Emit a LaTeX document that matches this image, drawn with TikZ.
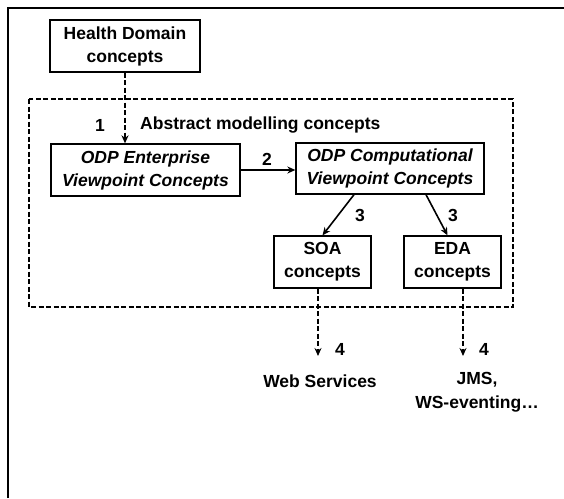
\documentclass[tikz,border=0pt]{standalone}
\usepackage{fontspec}
\setmainfont{Liberation Sans}
\usetikzlibrary{arrows.meta, positioning, calc}

\begin{document}
\begin{tikzpicture}[
    x=1pt, y=-1pt,
    box/.style={
        draw=black,
        fill=white,
        align=center,
        inner sep=0pt,
        font=\fontsize{17.5}{23}\selectfont\bfseries,
        line width=1.3pt
    },
    vpbox/.style={
        box,
        font=\fontsize{17.5}{23}\selectfont\bfseries\itshape
    },
    lbl/.style={
        align=center,
        inner sep=0pt,
        font=\fontsize{17.5}{24}\selectfont\bfseries
    },
    arrow/.style={
        -{Stealth[length=8pt,width=7pt]},
        line width=1.6pt,
        draw=black
    },
    dasharrow/.style={
        -{Stealth[length=8pt,width=7pt]},
        line width=1.6pt,
        dash pattern=on 5pt off 2.5pt,
        draw=black
    },
    region/.style={
        draw=black,
        line width=1.6pt,
        dash pattern=on 5pt off 2.5pt
    }
]
\useasboundingbox (0,0) rectangle (564,498);

% Frame
\draw[line width=2pt] (8,498) -- (8,8) -- (564,8);

% Abstract modelling region
\draw[region] (29,99) rectangle (513,307);
\node[lbl, anchor=west] (abs) at (140,125) {Abstract modelling concepts};

% Nodes
\node (hd) [box, minimum width=150pt, minimum height=52pt] at (125,46) {Health Domain\\concepts};
\node (ent) [vpbox, minimum width=189pt, minimum height=52pt] at (145.5,170) {ODP Enterprise\\Viewpoint Concepts};
\node (comp) [vpbox, minimum width=188pt, minimum height=51pt] at (390,168.5) {ODP Computational\\Viewpoint Concepts};
\node (soa) [box, minimum width=97pt, minimum height=52pt] at (322.5,262) {SOA\\concepts};
\node (eda) [box, minimum width=97pt, minimum height=52pt] at (452.5,262) {EDA\\concepts};

\node (ws) [lbl] at (320,381) {Web Services};
\node (jms) [lbl] at (477,392.5) {JMS,\\WS-eventing\dots};

\coordinate (w4) at (318,356);
\coordinate (j4) at (463,356);

% Paths
\draw [dasharrow] (hd.south) -- (hd.south |- ent.north);
\draw [arrow] (ent.east) -- (ent.east -| comp.west);
\draw [arrow] ([xshift=-36pt]comp.south) -- (soa.north);
\draw [arrow] ([xshift=36pt]comp.south) -- ([xshift=-5pt]eda.north);
\draw [dasharrow] (soa.south -| w4) -- (w4);
\draw [dasharrow] (eda.south -| j4) -- (j4);

% Step numbers
\node[lbl] (n1) at (100,125) {1};
\node[lbl] (n2) at (267,159) {2};
\node[lbl] (n3a) at (360,215) {3};
\node[lbl] (n3b) at (453,215) {3};
\node[lbl] (n4a) at (340,349) {4};
\node[lbl] (n4b) at (484,349) {4};

\end{tikzpicture}
\end{document}
